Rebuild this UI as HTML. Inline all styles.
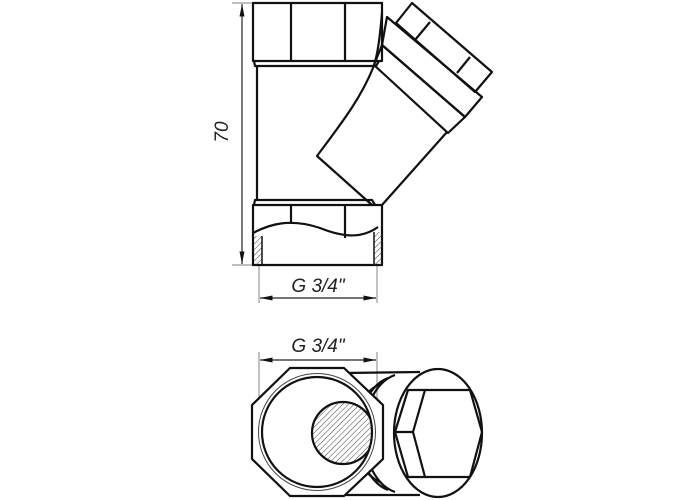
<!DOCTYPE html>
<html><head><style>html,body{margin:0;padding:0;background:#fff}svg{display:block}</style></head>
<body>
<svg width="700" height="500" viewBox="0 0 700 500" xmlns="http://www.w3.org/2000/svg">
<defs>
<pattern id="h" width="4" height="4" patternUnits="userSpaceOnUse" patternTransform="rotate(45)">
<line x1="0" y1="0" x2="0" y2="4" stroke="#444" stroke-width="1"/>
</pattern>
<marker id="a" viewBox="0 0 10 4" refX="10" refY="2" markerWidth="14" markerHeight="5" markerUnits="userSpaceOnUse" orient="auto-start-reverse"><path d="M0,0 L10,2 L0,4z" fill="#111"/></marker>
<clipPath id="cc"><circle cx="317" cy="432" r="55"/></clipPath>
</defs>
<g fill="none" stroke="#999" stroke-width="1.2">
<line x1="232" y1="3" x2="252" y2="3"/><line x1="232" y1="265" x2="252" y2="265"/>
<line x1="259" y1="265" x2="259" y2="303"/><line x1="377" y1="265" x2="377" y2="303"/>
<line x1="259" y1="352" x2="259" y2="425"/><line x1="377" y1="352" x2="377" y2="432"/>
</g>
<g stroke="#222" stroke-width="1.2" fill="none">
<line x1="242" y1="4" x2="242" y2="264" marker-start="url(#a)" marker-end="url(#a)"/>
<line x1="260" y1="298" x2="376" y2="298" marker-start="url(#a)" marker-end="url(#a)"/>
<line x1="260" y1="360" x2="376" y2="360" marker-start="url(#a)" marker-end="url(#a)"/>
</g>
<g font-family="Liberation Sans, sans-serif" font-size="19" fill="#222" font-style="italic">
<text x="228" y="132" transform="rotate(-90 228 132)" text-anchor="middle">70</text>
<text x="318" y="292" text-anchor="middle">G 3/4"</text>
<text x="318" y="352" text-anchor="middle">G 3/4"</text>
</g>
<!-- top view -->
<g fill="none" stroke="#111" stroke-width="2.2" stroke-linejoin="round">
<rect x="253" y="3" width="129" height="58"/>
<line x1="291" y1="3" x2="291" y2="61"/><line x1="345" y1="3" x2="345" y2="61"/>
<path d="M254,61 L255,66 L376,66 L379,61"/>
<line x1="257" y1="66" x2="257" y2="200"/>
<path d="M254,205 L255,200 L372,200 L375,205"/>
<rect x="253" y="205" width="129" height="60"/>
<line x1="291" y1="205" x2="291" y2="224"/><line x1="345" y1="205" x2="345" y2="238"/>
<path d="M253,233 C270,224 290,218 320,228 C340,236 360,240 378,227"/>
<path d="M382,13 C380,35 378,55 373,68 C360,100 340,125 317,156 L372,205"/>
<line x1="447" y1="132" x2="382" y2="205"/>
<polygon points="374,65 382,45 465,117 448,133"/>
<polygon points="382,45 387,17 482,97 465,117"/>
<polygon points="396,23 412,3 492,72 475,92"/>
<line x1="415" y1="40" x2="430" y2="22"/><line x1="457" y1="73" x2="470" y2="57"/>
</g>
<rect x="254" y="236" width="8" height="29" fill="url(#h)"/>
<rect x="374" y="232" width="8" height="33" fill="url(#h)"/>
<g stroke="#111" stroke-width="1.5"><line x1="262" y1="236" x2="262" y2="265"/><line x1="374" y1="232" x2="374" y2="265"/></g>
<!-- bottom view -->
<g fill="none" stroke="#111" stroke-width="2.2" stroke-linejoin="round">
<path d="M345,373 L420,372 M345,495 L420,495"/>
<path d="M395,375 A40,60 0 0 0 395,492"/>
<path d="M388,378 A40,58 0 0 0 388,490"/>
<path d="M380,384 A40,52 0 0 0 380,482"/>
<ellipse cx="438" cy="433" rx="44" ry="64" fill="#fff"/>
<polygon points="395,432 408,390 470,390 482,432 470,477 408,477"/>
<polyline points="425,390 413,432 425,477"/><line x1="395" y1="432" x2="413" y2="432"/>
<polygon points="290,368 344,368 383,405 383,459 344,496 290,496 252,459 252,405" fill="#fff"/>
<circle cx="317" cy="432" r="55"/>
</g>
<circle cx="317" cy="432" r="58.5" fill="none" stroke="#444" stroke-width="1"/>
<g clip-path="url(#cc)"><circle cx="343" cy="433" r="31" fill="url(#h)" stroke="#111" stroke-width="2.2"/></g>
</svg>
</body></html>
